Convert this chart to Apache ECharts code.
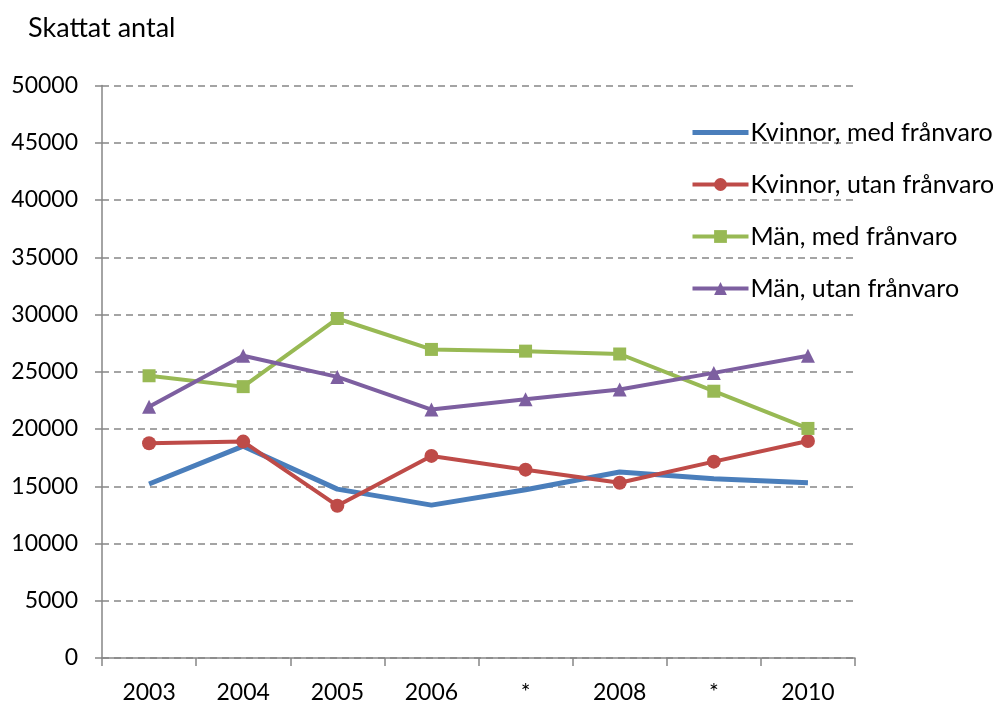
<!DOCTYPE html>
<html>
<head>
<meta charset="utf-8">
<script src="https://cdn.jsdelivr.net/npm/echarts@6/dist/echarts.min.js"></script>
<style>
  html, body { margin: 0; padding: 0; background: #fff; }
  #chart { width: 993px; height: 704px; }
</style>
</head>
<body>
<div id="chart"></div>
<script>
var categories = ["2003", "2004", "2005", "2006", "*", "2008", "*", "2010"];
var kvinnorMed = [15200, 18500, 14750, 13350, 14700, 16250, 15650, 15300];
var kvinnorUtan = [18750, 18900, 13300, 17650, 16450, 15300, 17150, 18950];
var manMed = [24650, 23700, 29650, 26950, 26800, 26550, 23300, 20050];
var manUtan = [21950, 26400, 24550, 21700, 22600, 23450, 24900, 26400];

var chart = echarts.init(document.getElementById("chart"));
var font = "Lato";
var axisGray = "#868686";

var option = {
  animation: false,
  textStyle: { fontFamily: font },
  title: {
    text: "Skattat antal",
    left: 23,
    top: 10,
    textStyle: { fontFamily: font, fontSize: 27, fontWeight: "normal", color: "#000" }
  },
  legend: {
    orient: "vertical",
    left: 685,
    top: 115,
    itemWidth: 56,
    itemHeight: 16,
    itemGap: 27,
    textStyle: { fontFamily: font, fontSize: 25, color: "#000", padding: [0, 0, 0, -3] },
    data: [
      { name: "Kvinnor, med frånvaro", itemStyle: { opacity: 0 }, lineStyle: { width: 5 } },
      { name: "Kvinnor, utan frånvaro", lineStyle: { width: 4 } },
      { name: "Män, med frånvaro", lineStyle: { width: 4 } },
      { name: "Män, utan frånvaro", lineStyle: { width: 4 } }
    ]
  },
  grid: { left: 102, right: 138, top: 85.5, bottom: 44.5 },
  xAxis: {
    type: "category",
    data: categories,
    boundaryGap: true,
    axisLine: { lineStyle: { color: axisGray, width: 1.5 } },
    axisTick: { show: true, length: 8, lineStyle: { color: axisGray, width: 1.5 } },
    axisLabel: { fontFamily: font, fontSize: 23, color: "#000", margin: 23 }
  },
  yAxis: {
    type: "value",
    min: 0,
    max: 50000,
    interval: 5000,
    axisLine: { show: true, lineStyle: { color: axisGray, width: 1.5 } },
    axisTick: { show: true, length: 7, lineStyle: { color: axisGray, width: 1.5 } },
    axisLabel: {
      fontFamily: font, fontSize: 23, color: "#000", margin: 24,
      formatter: function (v) { return String(v); }
    },
    splitLine: { show: true, lineStyle: { color: axisGray, width: 1.5, type: [7, 5] } }
  },
  series: [
    {
      name: "Kvinnor, med frånvaro",
      type: "line",
      data: kvinnorMed,
      symbol: "none",
      color: "#4A7EBB",
      lineStyle: { width: 5, color: "#4A7EBB" }
    },
    {
      name: "Kvinnor, utan frånvaro",
      type: "line",
      data: kvinnorUtan,
      symbol: "circle",
      symbolSize: 14,
      color: "#BE4B48",
      itemStyle: { color: "#BE4B48" },
      lineStyle: { width: 4, color: "#BE4B48" }
    },
    {
      name: "Män, med frånvaro",
      type: "line",
      data: manMed,
      symbol: "rect",
      symbolSize: 13,
      color: "#98B954",
      itemStyle: { color: "#98B954" },
      lineStyle: { width: 4, color: "#98B954" }
    },
    {
      name: "Män, utan frånvaro",
      type: "line",
      data: manUtan,
      symbol: "triangle",
      symbolSize: 14,
      color: "#7D5FA0",
      itemStyle: { color: "#7D5FA0" },
      lineStyle: { width: 4, color: "#7D5FA0" }
    }
  ]
};

chart.setOption(option);
window.addEventListener("resize", function () {
  chart.resize();
});
</script>
</body>
</html>
